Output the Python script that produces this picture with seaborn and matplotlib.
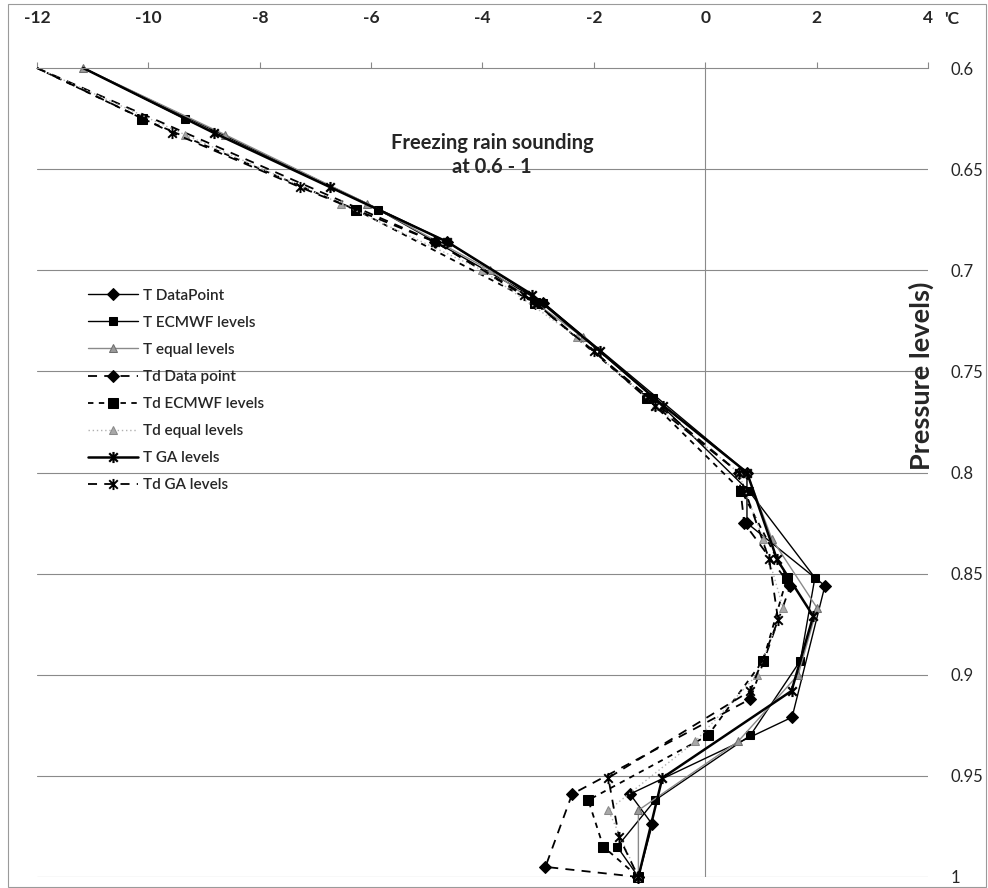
import numpy as np
import pandas as pd
import seaborn as sns
import matplotlib
matplotlib.use("Agg")
import matplotlib.pyplot as plt
from matplotlib.path import Path
from matplotlib.patches import Rectangle

# Temperature (deg C) at pressure levels (fraction of surface pressure)
t_dp_p = [0.600, 0.686, 0.716, 0.800, 0.825, 0.856, 0.921, 0.959, 0.974, 1.000]
t_dp_t = [-11.17, -4.63, -2.91, 0.75, 0.75, 2.15, 1.56, -1.35, -0.95, -1.20]

t_ec_p = [0.600, 0.625, 0.670, 0.716, 0.763, 0.809, 0.852, 0.893, 0.930, 0.962, 0.985, 1.000]
t_ec_t = [-11.17, -9.35, -5.87, -2.91, -0.93, 0.78, 1.97, 1.71, 0.81, -0.90, -1.58, -1.20]

t_eq_p = [0.600, 0.633, 0.667, 0.700, 0.733, 0.767, 0.800, 0.833, 0.867, 0.900, 0.933, 0.967, 1.000]
t_eq_t = [-11.17, -8.62, -6.07, -3.86, -2.20, -0.75, 0.75, 1.20, 2.01, 1.67, 0.59, -1.20, -1.20]

td_dp_p = [0.600, 0.686, 0.716, 0.800, 0.825, 0.856, 0.912, 0.959, 0.995, 1.000]
td_dp_t = [-12.00, -4.85, -3.05, 0.60, 0.70, 1.53, 0.81, -2.39, -2.87, -1.20]

td_ec_p = [0.600, 0.625, 0.670, 0.716, 0.763, 0.809, 0.852, 0.893, 0.930, 0.962, 0.985, 1.000]
td_ec_t = [-12.00, -10.11, -6.28, -3.05, -1.05, 0.65, 1.47, 1.04, 0.05, -2.10, -1.83, -1.20]

td_eq_p = [0.600, 0.633, 0.667, 0.700, 0.733, 0.767, 0.800, 0.833, 0.867, 0.900, 0.933, 0.967, 1.000]
td_eq_t = [-12.00, -9.34, -6.55, -4.00, -2.30, -0.90, 0.60, 1.04, 1.40, 0.93, -0.18, -1.74, -1.20]

t_ga_p = [0.600, 0.632, 0.659, 0.686, 0.712, 0.740, 0.767, 0.800, 0.843, 0.871, 0.908, 0.951, 1.000]
t_ga_t = [-11.17, -8.83, -6.73, -4.63, -3.11, -1.89, -0.75, 0.75, 1.29, 1.94, 1.55, -0.77, -1.20]

td_ga_p = [0.600, 0.632, 0.659, 0.686, 0.712, 0.740, 0.767, 0.800, 0.843, 0.873, 0.908, 0.951, 0.980, 1.000]
td_ga_t = [-12.00, -9.57, -7.27, -4.85, -3.25, -2.00, -0.90, 0.60, 1.15, 1.31, 0.81, -1.74, -1.55, -1.20]

x_ticks = [-12, -10, -8, -6, -4, -2, 0, 2, 4]
y_ticks = [0.6, 0.65, 0.7, 0.75, 0.8, 0.85, 0.9, 0.95, 1.0]
y_ticklabels = ["0.6", "0.65", "0.7", "0.75", "0.8", "0.85", "0.9", "0.95", "1"]

sns.set_style("white")
plt.rcParams["font.family"] = ["Lato", "DejaVu Sans"]

# Excel-like asterisk marker
asterisk = Path([(-1, -1), (1, 1), (-1, 1), (1, -1), (0, -1.3), (0, 1.3)],
                [Path.MOVETO, Path.LINETO] * 3)

series = [
    ("T DataPoint", t_dp_t, t_dp_p,
     dict(color="black", lw=1.0, ls="-", marker="D", ms=6.5, mfc="black", mec="black")),
    ("T ECMWF levels", t_ec_t, t_ec_p,
     dict(color="black", lw=1.0, ls="-", marker="s", ms=5.5, mfc="black", mec="black")),
    ("T equal levels", t_eq_t, t_eq_p,
     dict(color="#8a8a8a", lw=1.0, ls="-", marker="^", ms=6, mfc="#9a9a9a", mec="#6e6e6e")),
    ("Td Data point", td_dp_t, td_dp_p,
     dict(color="black", lw=1.3, ls=(0, (5, 4)), marker="D", ms=6.5, mfc="black", mec="black")),
    ("Td ECMWF levels", td_ec_t, td_ec_p,
     dict(color="black", lw=1.3, ls=(0, (3, 3)), marker="s", ms=6.5, mfc="black", mec="black")),
    ("Td equal levels", td_eq_t, td_eq_p,
     dict(color="#b0b0b0", lw=1.0, ls=(0, (1, 2)), marker="^", ms=6, mfc="#a8a8a8", mec="#8a8a8a")),
    ("T GA levels", t_ga_t, t_ga_p,
     dict(color="black", lw=1.8, ls="-", marker=asterisk, ms=8, mew=1.6, mec="black")),
    ("Td GA levels", td_ga_t, td_ga_p,
     dict(color="black", lw=1.3, ls=(0, (5, 4)), marker=asterisk, ms=8, mew=1.4, mec="black")),
]

fig = plt.figure(figsize=(9.88, 8.88), dpi=100)
ax = fig.add_axes([0.0375, 0.0124, 0.9017, 0.9110])

for name, tv, pv, style in series:
    df = pd.DataFrame({"T": tv, "p": pv})
    sns.lineplot(data=df, x="T", y="p", sort=False, estimator=None, ax=ax,
                 label=name, clip_on=False, **style)

ax.set_xlim(-12, 4)
ax.set_ylim(1.0, 0.6)
ax.set_xticks(x_ticks)
ax.set_xticklabels([str(v) for v in x_ticks], fontweight="bold")
ax.set_yticks(y_ticks)
ax.set_yticklabels(y_ticklabels)
ax.set_xlabel("")
ax.set_ylabel("")

ax.xaxis.tick_top()
ax.tick_params(axis="x", length=4, direction="out", pad=26, labelsize=12.5,
               color="#888888", width=0.8)
ax.yaxis.tick_right()
ax.tick_params(axis="y", length=0, pad=16, labelsize=12)

for side in ["left", "right", "bottom"]:
    ax.spines[side].set_visible(False)
ax.spines["top"].set_color("#8a8a8a")
ax.spines["top"].set_linewidth(0.8)

for y in y_ticks[1:]:
    ax.axhline(y, color="#8a8a8a", lw=0.8, zorder=0)
ax.axvline(0, color="#8a8a8a", lw=0.8, zorder=0)

handles, labels = ax.get_legend_handles_labels()
ax.legend(handles, labels, loc="upper left", bbox_to_anchor=(0.05, 0.735),
          frameon=False, prop={"size": 11, "weight": "semibold"}, handlelength=3.3,
          labelspacing=0.86, handletextpad=0.35, borderaxespad=0)

# only the "T equal levels" series shows a marker at the 0.6 top level
for line, lab in zip(handles, labels):
    if lab != "T equal levels":
        line.set_markevery(list(range(1, len(line.get_xdata()))))

ax.text(0.511, 0.8925, "Freezing rain sounding\nat 0.6 - 1", transform=ax.transAxes,
        ha="center", va="center", fontsize=14.5, fontweight="bold", linespacing=1.25)
ax.text(0.993, 0.62, "Pressure levels)", transform=ax.transAxes, rotation=90,
        ha="center", va="center", fontsize=19.5, fontweight="bold")
fig.text(0.956, 0.979, "'C", ha="left", va="center", fontsize=12.5, fontweight="bold")

fig.add_artist(Rectangle((0.008, 0.001), 0.99, 0.995, transform=fig.transFigure,
                         fill=False, ec="#9a9a9a", lw=0.8))

fig.savefig("out.png", dpi=100, facecolor="white")
